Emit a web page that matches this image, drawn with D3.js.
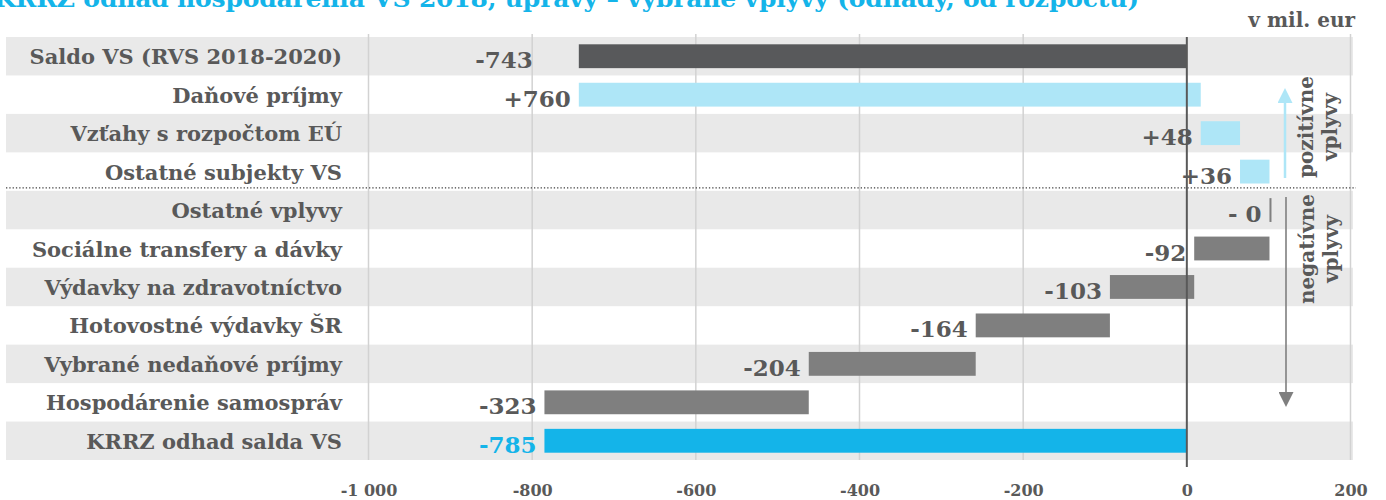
<!DOCTYPE html>
<html>
<head>
<meta charset="utf-8">
<script src="https://cdn.jsdelivr.net/npm/d3@7"></script>
<style>
  body { margin: 0; background: #fff; }
  svg { display: block; font-family: "DejaVu Serif", serif; font-weight: bold; }
</style>
</head>
<body>
<svg id="chart" width="1386" height="500"></svg>
<script>
var categories = ["Saldo VS (RVS 2018-2020)", "Daňové príjmy", "Vzťahy s rozpočtom EÚ", "Ostatné subjekty VS",
    "Ostatné vplyvy", "Sociálne transfery a dávky", "Výdavky na zdravotníctvo", "Hotovostné výdavky ŠR",
    "Vybrané nedaňové príjmy", "Hospodárenie samospráv", "KRRZ odhad salda VS"];
var changes = [-743, 760, 48, 36, -0, -92, -103, -164, -204, -323, -785];
var valueLabels = ["-743", "+760", "+48", "+36", "- 0", "-92", "-103", "-164", "-204", "-323", "-785"];
var kinds = ["start", "pos", "pos", "pos", "neg", "neg", "neg", "neg", "neg", "neg", "end"];
var xTicks = [-1000, -800, -600, -400, -200, 0, 200];

var colours = { start: "#58595b", pos: "#aee6f7", neg: "#7f7f7f", end: "#14b4e9" };
var textGrey = "#595959";

var svg = d3.select("#chart");

var x = d3.scaleLinear().domain([-1000, 200]).range([368.5, 1350.5]);
var y = d3.scaleBand().domain(categories).range([37, 460]);

// waterfall: running total
var running = 0;
var bars = categories.map(function (c, i) {
    var from, to;
    if (kinds[i] == "start" || kinds[i] == "end") {
        from = 0; to = changes[i]; running = changes[i];
    } else {
        from = running; to = running + changes[i]; running = to;
    }
    return { cat: c, from: from, to: to, kind: kinds[i], label: valueLabels[i] };
});

// title (cut off at the top, as in the original)
svg.append("text")
    .attr("x", -6).attr("y", 7)
    .attr("textLength", 1145)
    .style("font-size", "25px")
    .style("fill", "#14b4e9")
    .text("KRRZ odhad hospodárenia VS 2018, úpravy – vybrané vplyvy (odhady, od rozpočtu)");

// row bands
svg.selectAll("rect.band").data(categories.filter(function (c, i) { return i % 2 == 0; }))
    .enter().append("rect")
    .attr("class", "band")
    .attr("x", 6).attr("width", 1347)
    .attr("y", function (d) { return y(d); })
    .attr("height", y.bandwidth())
    .style("fill", "#e9e9e9");

// grid lines
svg.selectAll("line.grid").data(xTicks.filter(function (t) { return t != 0; }))
    .enter().append("line")
    .attr("class", "grid")
    .attr("x1", function (d) { return x(d); }).attr("x2", function (d) { return x(d); })
    .attr("y1", 34).attr("y2", 460)
    .style("stroke", "#d2d2d2").style("stroke-width", 1.5);

// dotted separator between positive and negative effects
var sepY = y(categories[4]) - 3;
svg.append("line")
    .attr("x1", 6).attr("x2", 1356).attr("y1", sepY).attr("y2", sepY)
    .style("stroke", "#404040").style("stroke-width", 1.3).style("stroke-dasharray", "1.3,2");

// bars
var barH = y.bandwidth() * 0.62;
svg.selectAll("rect.bar").data(bars)
    .enter().append("rect")
    .attr("class", "bar")
    .attr("x", function (d) { return x(Math.min(d.from, d.to)); })
    .attr("width", function (d) { return Math.max(2, Math.abs(x(d.to) - x(d.from))); })
    .attr("y", function (d) { return y(d.cat) + (y.bandwidth() - barH) / 2; })
    .attr("height", barH)
    .style("fill", function (d) { return colours[d.kind]; });

// zero line
svg.append("line")
    .attr("x1", x(0)).attr("x2", x(0)).attr("y1", 37).attr("y2", 467)
    .style("stroke", "#595959").style("stroke-width", 2);

// value labels
svg.selectAll("text.val").data(bars)
    .enter().append("text")
    .attr("class", "val")
    .attr("x", function (d) { return x(Math.min(d.from, d.to)) - (d.kind == "start" ? 46 : 8); })
    .attr("y", function (d) { return y(d.cat) + y.bandwidth() / 2 + 12; })
    .attr("text-anchor", "end")
    .style("font-size", "23px")
    .style("fill", function (d) { return d.kind == "end" ? "#14b4e9" : textGrey; })
    .text(function (d) { return d.label; });

// category labels
svg.selectAll("text.cat").data(categories)
    .enter().append("text")
    .attr("class", "cat")
    .attr("x", 342)
    .attr("y", function (d) { return y(d) + y.bandwidth() / 2 + 8; })
    .attr("text-anchor", "end")
    .style("font-size", "21px")
    .style("fill", textGrey)
    .text(function (d) { return d; });

// x axis
var axis = d3.axisBottom(x).tickValues(xTicks).tickSize(0)
    .tickFormat(function (d) { return String(d).replace("000", " 000"); });
var gx = svg.append("g").attr("transform", "translate(0,482)").call(axis);
gx.select(".domain").remove();
gx.selectAll("text")
    .style("font-family", "DejaVu Serif").style("font-weight", "bold")
    .style("font-size", "16px").style("fill", textGrey);

// unit
svg.append("text")
    .attr("x", 1355).attr("y", 27)
    .attr("text-anchor", "end")
    .style("font-size", "20px").style("fill", textGrey)
    .text("v mil. eur");

// side annotations with arrows
var defs = svg.append("defs");
function marker(id, col) {
    defs.append("marker").attr("id", id)
        .attr("viewBox", "0 0 10 10").attr("refX", 2).attr("refY", 5)
        .attr("markerUnits", "userSpaceOnUse")
        .attr("markerWidth", 15).attr("markerHeight", 15).attr("orient", "auto")
        .append("path").attr("d", "M0,0 L10,5 L0,10 Z").style("fill", col);
}
marker("up", "#aee6f7");
marker("down", "#7f7f7f");

svg.append("line")
    .attr("x1", 1285).attr("x2", 1285).attr("y1", 178).attr("y2", 100)
    .style("stroke", "#aee6f7").style("stroke-width", 2.5)
    .attr("marker-end", "url(#up)");
svg.append("line")
    .attr("x1", 1286).attr("x2", 1286).attr("y1", 197).attr("y2", 395)
    .style("stroke", "#7f7f7f").style("stroke-width", 1.6)
    .attr("marker-end", "url(#down)");

function sideText(lines, cx, cy) {
    var t = svg.append("text")
        .attr("transform", "translate(" + cx + "," + cy + ") rotate(-90)")
        .attr("text-anchor", "middle")
        .style("font-size", "20px").style("fill", textGrey);
    lines.forEach(function (l, i) {
        t.append("tspan").attr("x", 0).attr("dy", i == 0 ? 0 : 24).text(l);
    });
}
sideText(["pozitívne", "vplyvy"], 1313, 127);
sideText(["negatívne", "vplyvy"], 1314, 249);
</script>
</body>
</html>
